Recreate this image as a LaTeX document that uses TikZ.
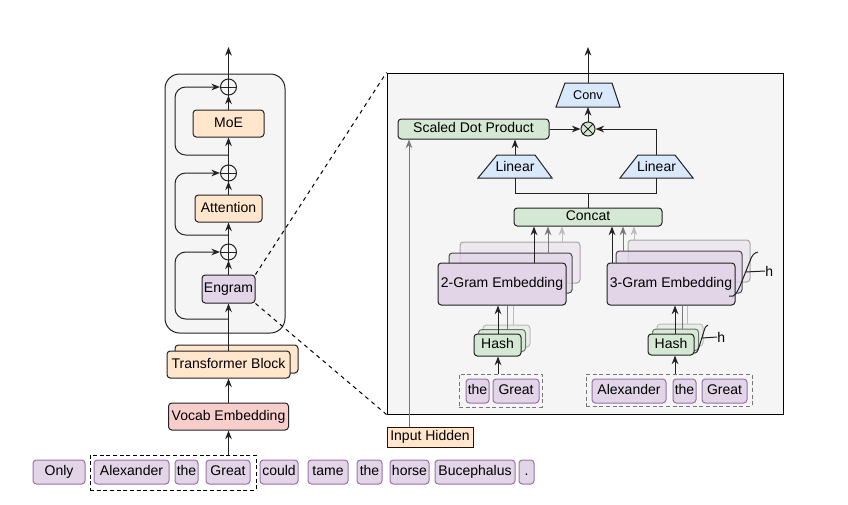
\documentclass[tikz,border=0pt]{standalone}
\usepackage{fontspec}
\setmainfont{Liberation Sans}
\usetikzlibrary{arrows.meta}
\definecolor{purF}{HTML}{E1D5E7}
\definecolor{purD}{HTML}{9673A6}
\definecolor{orF}{HTML}{FFE6CC}
\definecolor{redF}{HTML}{F8CECC}
\definecolor{grF}{HTML}{D5E8D4}
\definecolor{blF}{HTML}{DAE8FC}
\definecolor{bgF}{HTML}{F5F5F5}
\definecolor{lineD}{HTML}{222222}
\definecolor{lineM}{HTML}{777777}
\definecolor{lineL}{HTML}{BBBBBB}
\newcommand\bx[7]{\node[#6, minimum width={(#4-#2)*0.75pt}, minimum height={(#5-#3)*0.75pt}] (#1) at ({(#2+#4)/2},{(#3+#5)/2}) {#7};}
\tikzset{
 base/.style={draw=lineD, rounded corners=2.5pt, inner sep=0pt, font=\fontsize{10.5}{12}\selectfont, text=black, line width=0.75pt, text height=7.6pt, text depth=2.2pt},
 tok/.style={base, fill=purF, draw=purD},
 pur/.style={base, fill=purF},
 ora/.style={base, fill=orF},
 redb/.style={base, fill=redF},
 grn/.style={base, fill=grF},
 ihb/.style={base, fill=orF, rounded corners=0pt, draw=black!85!orange},
 ghostA/.style={base, fill=purF, fill opacity=0.75, draw opacity=0.8},
 ghostB/.style={base, fill=purF, fill opacity=0.4, draw opacity=0.35},
 ghostGA/.style={base, fill=grF, fill opacity=0.75, draw opacity=0.6},
 ghostGB/.style={base, fill=grF, fill opacity=0.4, draw opacity=0.25},
 container/.style={draw=lineD, fill=bgF, rounded corners=11pt, line width=0.75pt, inner sep=0pt},
 panelst/.style={draw=black, fill=bgF, line width=0.75pt, inner sep=0pt},
 grpblk/.style={draw=black, dash pattern=on 3pt off 2pt, line width=0.75pt, inner sep=0pt},
 grpgr/.style={draw=lineM, dash pattern=on 3pt off 2pt, line width=0.75pt, inner sep=0pt},
 arr/.style={draw=lineD, line width=0.75pt, -{Stealth[length=6.5pt,width=5pt]}},
 arrM/.style={draw=lineM, line width=0.75pt, -{Stealth[length=6.5pt,width=5pt]}},
 arrL/.style={draw=lineL, line width=0.75pt, -{Stealth[length=6.5pt,width=5pt]}},
 ln/.style={draw=lineD, line width=0.75pt},
 lnM/.style={draw=lineM, line width=0.75pt},
 lnL/.style={draw=lineL, line width=0.75pt},
 opcirc/.style={circle, draw=lineD, line width=0.75pt, inner sep=0pt},
 trap/.style={draw=lineD, fill=blF, line width=0.75pt},
 lbl/.style={inner sep=0pt, font=\fontsize{10.5}{12}\selectfont, text=black},
}
\begin{document}
\begin{tikzpicture}[x=0.75pt,y=-0.75pt]
\useasboundingbox (0,0) rectangle (848,504);

% ---------- left column ----------
\bx{block}{165}{74}{285}{333}{container}{}
\bx{moe}{193}{110}{264}{137}{ora}{MoE}
\bx{att}{195}{195}{262}{222}{ora}{Attention}
\bx{eng}{202}{275}{255}{303}{pur}{Engram}
\bx{tbb}{175}{345}{298}{373}{ora}{}
\bx{tb}{167}{351}{290}{378}{ora}{Transformer Block}
\bx{voc}{168.5}{403}{288.5}{430}{redb}{Vocab Embedding}

\node[opcirc, minimum size=12pt] (p1) at (228.5,87) {};
\node[opcirc, minimum size=12pt] (p2) at (228.5,173) {};
\node[opcirc, minimum size=12pt] (p3) at (228.5,252) {};
\foreach \c in {p1,p2,p3}{\draw[ln] (\c.north) -- (\c.south) (\c.west) -- (\c.east);}

\coordinate (outL) at (228.5,47);
\coordinate (s1) at (228.5,155);
\coordinate (s2) at (228.5,235);
\coordinate (s3) at (228.5,319);

\draw[arr] (p1.north) -- (outL);
\draw[arr] (moe.north) -- (p1.south);
\draw[arr] (p2.north) -- (moe.south);
\draw[arr] (att.north) -- (p2.south);
\draw[arr] (p3.north) -- (att.south);
\draw[arr] (eng.north) -- (p3.south);
\draw[arr] (tb.north) -- (eng.south);
\draw[arr] (voc.north) -- (tb.south);

\draw[arr, rounded corners=8pt] (s1) -| (175,87) -- (p1.west);
\draw[arr, rounded corners=8pt] (s2) -| (175,173) -- (p2.west);
\draw[arr, rounded corners=8pt] (s3) -| (175,252) -- (p3.west);

% ---------- bottom tokens ----------
\bx{t1}{33}{460}{85}{484}{tok}{Only}
\bx{gb}{90}{455}{256}{490}{grpblk}{}
\bx{t2}{94}{460}{169}{484}{tok}{Alexander}
\bx{t3}{175}{460}{198}{484}{tok}{the}
\bx{t4}{206}{460}{250}{484}{tok}{Great}
\bx{t5}{260}{460}{298}{484}{tok}{could}
\bx{t6}{308}{460}{348}{484}{tok}{tame}
\bx{t7}{357}{460}{382}{484}{tok}{the}
\bx{t8}{390}{460}{429}{484}{tok}{horse}
\bx{t9}{435}{460}{515}{484}{tok}{Bucephalus}
\bx{t10}{519}{460}{534}{484}{tok}{.}
\draw[arr] (voc.south |- gb.north) -- (voc.south);

% ---------- right panel ----------
\bx{panel}{387}{73}{783}{414}{panelst}{}
\draw[black, line width=0.75pt, dash pattern=on 3pt off 3pt] (eng.north east) -- (panel.north west);
\draw[black, line width=0.75pt, dash pattern=on 3pt off 3pt] (eng.south east) -- (panel.south west);

% Conv
\draw[trap] (565,83) -- (612,83) -- (620,107) -- (556,107) -- cycle;
\node[lbl, font=\fontsize{9.5}{11}\selectfont] (conv) at (588,95) {Conv};
\coordinate (convT) at (588,83);
\coordinate (convB) at (588,107);
\coordinate (outR) at (588,47);
\node[opcirc, fill=grF, minimum size=10.5pt] (mul) at (588,129) {};
\draw[ln] (mul.45) -- (mul.225) (mul.135) -- (mul.315);
\draw[arr] (convT) -- (outR);
\draw[arr] (mul.north) -- (convB);

\bx{sdp}{398}{119}{549}{139}{grn}{Scaled Dot Product}
\draw[arr] (sdp.east) -- (mul.west);

% Linear trapezoids
\draw[trap] (497,155) -- (535,155) -- (552,178) -- (478,178) -- cycle;
\node[lbl] (linL) at (515,166.5) {Linear};
\coordinate (linLT) at (515,155);
\coordinate (linLB) at (515,178);
\draw[trap] (638,155) -- (675,155) -- (693,178) -- (620,178) -- cycle;
\node[lbl] (linR) at (656.5,166.5) {Linear};
\coordinate (linRT) at (656.5,155);
\coordinate (linRB) at (656.5,178);
\draw[arr] (linLT) -- (linLT |- sdp.south);
\draw[arr] (linRT) |- (mul.east);

\bx{cat}{514}{208}{662}{226}{grn}{Concat}
\coordinate (catJ) at (588,193);
\draw[ln] (cat.north) -- (catJ);
\draw[ln] (linLB) -- (linLB |- catJ) -| (linRB);

% 2-gram stack
\bx{e2c}{460}{242}{580}{283}{ghostB}{}
\bx{e2b}{449}{253}{572}{293}{ghostA}{}
\bx{e2}{438}{263}{566}{305}{pur}{2-Gram Embedding}
\draw[arr] (e2.north -| 534,0) -- (cat.south -| 534,0);
\draw[arrM] (e2b.north -| 548,0) -- (cat.south -| 548,0);
\draw[arrL] (e2c.north -| 562,0) -- (cat.south -| 562,0);

\bx{h2c}{483}{325}{530}{347}{ghostGB}{}
\bx{h2b}{478.5}{329.5}{525.5}{351.5}{ghostGA}{}
\draw[lnL] (h2c.north -| 513,0) -- (e2.south -| 513,0);
\draw[lnM] (h2b.north -| 507,0) -- (e2.south -| 507,0);
\bx{h2}{474}{334}{521}{356}{grn}{Hash}
\draw[arr] (h2.north -| 498,0) -- (e2.south -| 498,0);

\bx{g2}{459}{374}{542}{407}{grpgr}{}
\bx{g2a}{466}{379}{489}{403}{tok}{the}
\bx{g2b}{493}{379}{539}{403}{tok}{Great}
\draw[arr] (g2.north -| 498,0) -- (h2.south -| 498,0);

% 3-gram stack
\bx{e3c}{628}{240}{750}{282}{ghostB}{}
\bx{e3b}{616}{251}{742}{293}{ghostA}{}
\bx{e3}{607}{263}{735}{305}{pur}{3-Gram Embedding}
\draw[arr] (e3.north -| 612,0) -- (cat.south -| 612,0);
\draw[arrM] (e3b.north -| 623,0) -- (cat.south -| 623,0);
\draw[arrL] (e3c.north -| 634,0) -- (cat.south -| 634,0);

\bx{h3c}{657}{324}{703}{346}{ghostGB}{}
\bx{h3b}{652.5}{329}{698.5}{350.5}{ghostGA}{}
\draw[lnL] (h3c.north -| 687,0) -- (e3.south -| 687,0);
\draw[lnM] (h3b.north -| 682,0) -- (e3.south -| 682,0);
\bx{h3}{648}{334}{694}{355}{grn}{Hash}
\draw[arr] (h3.north -| 675,0) -- (e3.south -| 675,0);

\bx{g3}{586}{374}{752}{406}{grpgr}{}
\bx{g3a}{592}{379}{666}{403}{tok}{Alexander}
\bx{g3b}{673}{379}{696}{403}{tok}{the}
\bx{g3c}{702}{379}{747}{403}{tok}{Great}
\draw[arr] (g3.north -| 675,0) -- (h3.south -| 675,0);

% h labels
\draw[ln] (729,296) .. controls (735,298) and (737,292) .. (740,286) -- (750,261) .. controls (752,255) and (754,253) .. (758,252);
\node[lbl, anchor=west] (hE) at (765,271) {h};
\draw[ln] (745.6,272) -- (hE.west);
\draw[ln] (693,353) .. controls (697,354) and (698,350) .. (699,347) -- (704,331) .. controls (705,327) and (706,326) .. (708,325);
\node[lbl, anchor=west] (hH) at (717,337) {h};
\draw[ln] (701.8,338) -- (hH.west);

% Input Hidden
\bx{ih}{387}{427}{473}{447}{ihb}{Input Hidden}
\draw[arrM] (ih.north -| 409,0) -- (sdp.south -| 409,0);
\end{tikzpicture}
\end{document}
